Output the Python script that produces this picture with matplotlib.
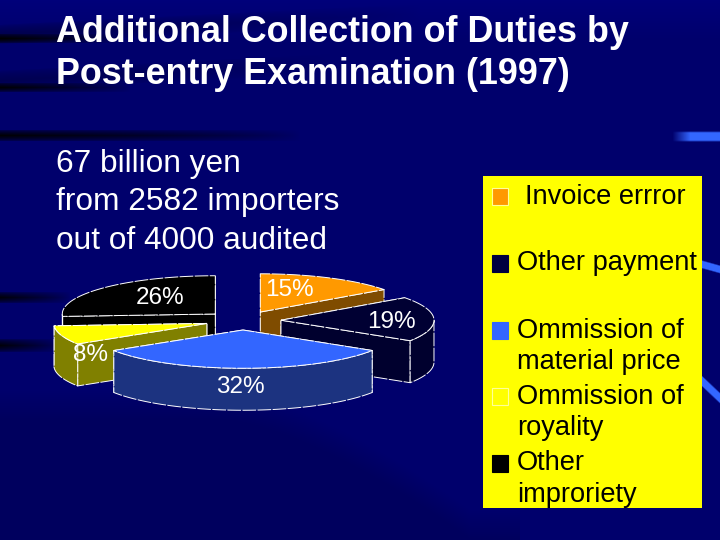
import numpy as np
import matplotlib
matplotlib.use("Agg")
import matplotlib.pyplot as plt
from matplotlib.patches import Polygon, Rectangle

title_lines = ["Additional Collection of Duties by", "Post-entry Examination (1997)"]
body_lines = ["67 billion yen", "from 2582 importers", "out of 4000 audited"]
categories = ["Invoice errror", "Other payment", "Ommission of\nmaterial price", "Ommission of\nroyality", "Other\nimproriety"]
values = [15, 19, 32, 8, 26]
top_colors = ["#FF9900", "#000033", "#3366FF", "#FFFF00", "#000000"]
wall_colors = ["#7F4C00", "#00002E", "#1C3380", "#808000", "#000000"]
swatch_colors = ["#FF9900", "#000040", "#3366FF", "#FFFF00", "#000000"]

W, H = 720, 540
CX, CY, RX, RATIO, DEPTH, EXPLODE = 243, 320.5, 153, 0.25, 42, 38
SANS = ["Liberation Sans", "DejaVu Sans"]

fig = plt.figure(figsize=(7.2, 5.4), dpi=100)
ax = fig.add_axes([0, 0, 1, 1])
ax.set_xlim(0, W)
ax.set_ylim(H, 0)
ax.axis("off")

# background
yy, xx = np.mgrid[0:H, 0:W]
boundary = 420 + 120 * np.clip((xx - 220) / 250, 0, 1) ** 1.5
blue = np.full((H, W), 108.0)
blue -= 14 * np.clip((yy - boundary) / 30 + 1, 0, 1) * (xx < 520)
blue += 14 * np.clip(1 - yy / 40, 0, 1)
shade = np.ones_like(blue)
for yc, hw, x_end, slope, amt in [(38, 5, 120, 0, 1.0), (87, 5, 130, 0, 0.95),
                                  (135, 6, 300, 0, 0.95), (297, 6, 70, 0, 0.9),
                                  (345, 7, 60, 0, 0.9), (34, 10, 420, -0.05, 0.3),
                                  (80, 10, 330, -0.05, 0.25)]:
    d = np.abs(yy - (yc + slope * xx)) / hw
    shade *= 1 - amt * np.clip(1 - d, 0, 1) ** 0.6 * np.clip(1 - xx / x_end, 0, 1) ** 0.7
bg = np.zeros((H, W, 3))
bg[..., 2] = blue * shade / 255
for yc, hw, x0, x1, slope in [(136, 5.5, 690, 720, 0), (264, 4.5, 702, 720, 0.28), (381, 6, 702, 720, 0.95)]:
    d = np.abs(yy - (yc + slope * (xx - x0))) / hw
    a = np.clip((1 - d) * 3, 0, 1) * np.clip((xx - (x0 - 18)) / 18, 0, 1) * (xx <= x1)
    for i, v in enumerate((0.2, 0.4, 1.0)):
        bg[..., i] = bg[..., i] * (1 - a) + v * a
ax.imshow(bg, extent=(0, W, H, 0), aspect="auto", zorder=0, interpolation="bilinear")


def pt(cx, cy, th, r=RX):
    return cx + r * np.cos(th), cy - r * RATIO * np.sin(th)


def add(poly, color, z):
    ax.add_patch(Polygon(poly, closed=True, facecolor=color, edgecolor="white",
                         linewidth=0.7, linestyle=(0, (14, 1.5)), joinstyle="round", zorder=z))


# slice geometry from values, clockwise from 12 o'clock
ends = 90 - np.cumsum(values) * 3.6
starts = np.r_[90, ends[:-1]]
order = [4, 0, 3, 1, 2]  # back to front
for z, i in enumerate(order):
    a0, a1 = np.radians(ends[i]), np.radians(starts[i])
    mid = (a0 + a1) / 2
    cx, cy = pt(CX, CY, mid, EXPLODE)
    base = 2 + z * 3
    walls = []
    for a in (a1, a0):
        ex, ey = pt(cx, cy, a)
        walls.append([(cx, cy), (ex, ey), (ex, ey + DEPTH), (cx, cy + DEPTH)])
    walls.sort(key=lambda w: w[1][1])
    for w in walls:
        add(w, wall_colors[i], base)
    th = np.linspace(a0, a1, 120)
    th_front = th[np.sin(th) <= 0]
    if len(th_front) > 1:
        ax_, ay_ = pt(cx, cy, th_front)
        outer = list(zip(ax_, ay_)) + list(zip(ax_[::-1], ay_[::-1] + DEPTH))
        add(outer, wall_colors[i], base + 1)
    tx, ty = pt(cx, cy, th)
    add([(cx, cy)] + list(zip(tx, ty)), top_colors[i], base + 2)

# data labels
label_pos = [(289, 290), (391, 322), (240, 387), (90, 355), (160, 298)]
for v, (x, y) in zip(values, label_pos):
    ax.text(x, y, f"{v}%", color="white", ha="center", va="center",
            fontsize=17.5, fontfamily=SANS, zorder=40)

# title and body
for line, y in zip(title_lines, (32, 75)):
    ax.text(56, y, line, color="white", fontsize=25.8, fontweight="bold",
            fontfamily=SANS, va="center", ha="left", zorder=40)
for line, y in zip(body_lines, (164, 202, 241)):
    ax.text(56, y, line, color="white", fontsize=22.8, fontfamily=SANS,
            va="center", ha="left", zorder=40)

# legend panel
ax.add_patch(Rectangle((483, 176), 219, 332, facecolor="#FFFF00", edgecolor="none", zorder=30))
swatch_y = [196, 263, 330, 396, 463]
text_x = [525, 517, 517, 517, 517]
line_gap = 31.5
for name, col, y, x in zip(categories, swatch_colors, swatch_y, text_x):
    edge = "#FFFF99" if col in ("#FFFF00", "#FF9900") else col
    ax.add_patch(Rectangle((492, y - 8.5), 16, 17, facecolor=col, edgecolor=edge, linewidth=0.8, zorder=31))
    for k, part in enumerate(name.split("\n")):
        ax.text(x, y + k * line_gap + 0.5, part, color="#000000", fontsize=19.6,
                fontfamily=SANS, va="center", ha="left", zorder=32)

fig.savefig("out.png", dpi=100)
